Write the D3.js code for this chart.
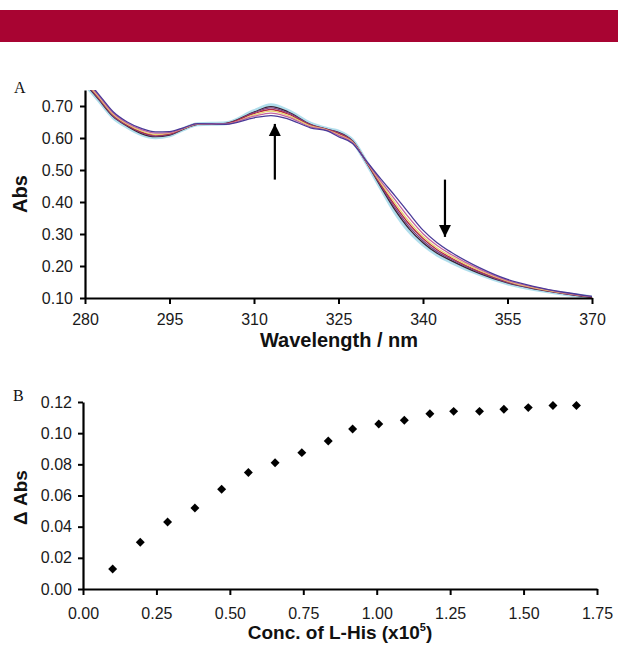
<!DOCTYPE html>
<html>
<head>
<meta charset="utf-8">
<script src="https://cdn.jsdelivr.net/npm/d3@7"></script>
<style>
  body { margin: 0; background: #fff; }
  svg { display: block; }
</style>
</head>
<body>
<svg id="fig" width="618" height="656"></svg>
<script>
let fontSans = "'Liberation Sans', Arial, Helvetica, sans-serif";
let fontSerif = "'Liberation Serif', 'Times New Roman', serif";

// ---- panel A: UV spectra during titration ----
const wavelengths = [280, 282.5, 285, 287.5, 290, 292.5, 295, 297.5, 300, 305, 310, 313, 316, 320, 323, 325, 327.5, 330, 332.5, 335, 337.5, 340, 342.5, 345, 350, 355, 360, 365, 370];
const abs0 = [0.788, 0.735, 0.682, 0.650, 0.630, 0.619, 0.620, 0.632, 0.645, 0.643, 0.663, 0.670, 0.660, 0.632, 0.622, 0.604, 0.583, 0.527, 0.472, 0.420, 0.365, 0.312, 0.273, 0.243, 0.195, 0.158, 0.135, 0.118, 0.105];
const abs1 = [0.783, 0.731, 0.678, 0.646, 0.626, 0.615, 0.617, 0.631, 0.645, 0.644, 0.668, 0.678, 0.666, 0.635, 0.624, 0.608, 0.585, 0.526, 0.465, 0.408, 0.351, 0.301, 0.264, 0.236, 0.190, 0.155, 0.133, 0.117, 0.104];
const abs2 = [0.779, 0.727, 0.674, 0.643, 0.622, 0.611, 0.615, 0.630, 0.644, 0.644, 0.672, 0.684, 0.671, 0.638, 0.625, 0.611, 0.587, 0.525, 0.460, 0.398, 0.340, 0.292, 0.256, 0.230, 0.186, 0.153, 0.131, 0.116, 0.104];
const abs3 = [0.777, 0.724, 0.672, 0.641, 0.619, 0.609, 0.613, 0.630, 0.644, 0.645, 0.676, 0.689, 0.675, 0.640, 0.626, 0.614, 0.588, 0.524, 0.456, 0.390, 0.332, 0.286, 0.251, 0.225, 0.183, 0.151, 0.130, 0.115, 0.103];
const abs4 = [0.774, 0.722, 0.669, 0.639, 0.617, 0.606, 0.611, 0.629, 0.643, 0.645, 0.679, 0.694, 0.679, 0.642, 0.627, 0.616, 0.590, 0.523, 0.452, 0.383, 0.324, 0.279, 0.245, 0.221, 0.180, 0.149, 0.129, 0.114, 0.103];
const abs5 = [0.771, 0.719, 0.667, 0.637, 0.614, 0.604, 0.609, 0.628, 0.643, 0.646, 0.681, 0.698, 0.682, 0.643, 0.627, 0.618, 0.591, 0.523, 0.448, 0.376, 0.317, 0.273, 0.240, 0.217, 0.177, 0.147, 0.128, 0.114, 0.102];
const abs6 = [0.769, 0.717, 0.665, 0.635, 0.612, 0.602, 0.608, 0.628, 0.643, 0.646, 0.684, 0.702, 0.685, 0.645, 0.628, 0.620, 0.592, 0.522, 0.445, 0.370, 0.310, 0.268, 0.236, 0.213, 0.175, 0.146, 0.127, 0.113, 0.102];
const specColors = ["#4a3a98", "#c4649e", "#e8d670", "#b3283e", "#7d4589", "#3a2230", "#8fd0e4"];
const absTicks = [0.10, 0.20, 0.30, 0.40, 0.50, 0.60, 0.70];
const wlTicks = [280, 295, 310, 325, 340, 355, 370];
// arrows: [wavelength, from abs, to abs]
const arrowsA = [[313.7, 0.47, 0.644], [343.9, 0.47, 0.291]];

// ---- panel B: binding curve ----
const concs = [0.101, 0.195, 0.288, 0.381, 0.472, 0.563, 0.654, 0.745, 0.835, 0.918, 1.007, 1.094, 1.181, 1.262, 1.350, 1.433, 1.516, 1.600, 1.680];
const dAbs = [0.0128, 0.030, 0.043, 0.052, 0.064, 0.0747, 0.081, 0.0875, 0.095, 0.1027, 0.1059, 0.1083, 0.1125, 0.114, 0.114, 0.1154, 0.1164, 0.1177, 0.1177];
const dAbsTicks = [0, 0.02, 0.04, 0.06, 0.08, 0.10, 0.12];
const concTicks = [0, 0.25, 0.5, 0.75, 1.0, 1.25, 1.5, 1.75];

let svg = d3.select("#fig");

// red banner at the top
svg.append("rect")
	.attr("x", 0).attr("y", 10)
	.attr("width", 618).attr("height", 32)
	.attr("fill", "#a80432");

function styleAxis(g) {
	g.select(".domain").attr("stroke", "#000").attr("stroke-width", 2.2);
	g.selectAll(".tick line").attr("stroke", "#000").attr("stroke-width", 2);
	g.selectAll(".tick text")
		.attr("fill", "#1a1a1a")
		.attr("font-family", fontSans)
		.attr("font-size", "16px");
}

// ===== Panel A =====
let xA = d3.scaleLinear().domain([280, 370]).range([85, 592]);
let yA = d3.scaleLinear().domain([0.1, 0.75]).range([298, 90]);

svg.append("defs").append("clipPath").attr("id", "clipA")
	.append("rect")
	.attr("x", xA(280)).attr("y", yA(0.75))
	.attr("width", xA(370) - xA(280))
	.attr("height", yA(0.1) - yA(0.75));

let spectra = [abs0, abs1, abs2, abs3, abs4, abs5, abs6];
let line = d3.line()
	.x((d, i) => xA(wavelengths[i]))
	.y(d => yA(d))
	.curve(d3.curveMonotoneX);

let gSpec = svg.append("g").attr("clip-path", "url(#clipA)");
// final (saturated) spectrum as a pale cyan halo drawn underneath
gSpec.append("path")
	.attr("d", line(abs6))
	.attr("fill", "none")
	.attr("stroke", specColors[6])
	.attr("stroke-width", 4)
	.attr("stroke-opacity", 0.7);
// later spectra first so the starting spectrum ends on top
gSpec.selectAll("path.spec")
	.data(spectra.slice(0, 6).map((d, i) => ({v: d, c: specColors[i]})).reverse()).enter()
	.append("path")
	.attr("class", "spec")
	.attr("d", d => line(d.v))
	.attr("fill", "none")
	.attr("stroke", d => d.c)
	.attr("stroke-width", 1.3);

svg.append("g")
	.attr("transform", "translate(0," + yA(0.1) + ")")
	.call(d3.axisBottom(xA).tickValues(wlTicks).tickFormat(d3.format("d")).tickSizeInner(6).tickSizeOuter(0).tickPadding(10))
	.call(styleAxis);

svg.append("g")
	.attr("transform", "translate(" + xA(280) + ",0)")
	.call(d3.axisLeft(yA).tickValues(absTicks).tickFormat(d3.format(".2f")).tickSizeInner(5).tickSizeOuter(0).tickPadding(7))
	.call(styleAxis);

// arrows
svg.append("defs").append("marker")
	.attr("id", "arrowhead")
	.attr("viewBox", "0 0 10 10")
	.attr("refX", 10).attr("refY", 5)
	.attr("markerUnits", "userSpaceOnUse")
	.attr("markerWidth", 12).attr("markerHeight", 13)
	.attr("orient", "auto")
	.append("path")
	.attr("d", "M0,0 L10,5 L0,10 Z")
	.attr("fill", "#000");

svg.selectAll("line.arrow")
	.data(arrowsA).enter()
	.append("line")
	.attr("class", "arrow")
	.attr("x1", d => xA(d[0])).attr("x2", d => xA(d[0]))
	.attr("y1", d => yA(d[1])).attr("y2", d => yA(d[2]))
	.attr("stroke", "#000")
	.attr("stroke-width", 2.2)
	.attr("marker-end", "url(#arrowhead)");

svg.append("text")
	.attr("x", 339).attr("y", 347)
	.attr("text-anchor", "middle")
	.attr("font-family", fontSans)
	.attr("font-weight", "bold")
	.attr("font-size", "20px")
	.attr("fill", "#111")
	.text("Wavelength / nm");

svg.append("text")
	.attr("transform", "translate(27," + ((yA(0.1) + yA(0.75)) / 2) + ") rotate(-90)")
	.attr("text-anchor", "middle")
	.attr("font-family", fontSans)
	.attr("font-weight", "bold")
	.attr("font-size", "20px")
	.attr("fill", "#111")
	.text("Abs");

svg.append("text")
	.attr("x", 14).attr("y", 93)
	.attr("font-family", fontSerif)
	.attr("font-size", "16px")
	.attr("fill", "#111")
	.text("A");

// ===== Panel B =====
let xB = d3.scaleLinear().domain([0, 1.75]).range([83, 597]);
let yB = d3.scaleLinear().domain([0, 0.12]).range([589, 402]);

svg.append("g")
	.attr("transform", "translate(0," + yB(0) + ")")
	.call(d3.axisBottom(xB).tickValues(concTicks).tickFormat(d3.format(".2f")).tickSizeInner(6).tickSizeOuter(0).tickPadding(13))
	.call(styleAxis);

svg.append("g")
	.attr("transform", "translate(" + xB(0) + ",0)")
	.call(d3.axisLeft(yB).tickValues(dAbsTicks).tickFormat(d3.format(".2f")).tickSizeInner(5).tickSizeOuter(0).tickPadding(6))
	.call(styleAxis);

let diamond = d3.symbol().type(d3.symbolSquare).size(40);
svg.append("g").selectAll("path")
	.data(concs).enter()
	.append("path")
	.attr("d", diamond)
	.attr("transform", (d, i) => "translate(" + xB(d) + "," + yB(dAbs[i]) + ") rotate(45)")
	.attr("fill", "#000");

let titleB = svg.append("text")
	.attr("x", 340).attr("y", 639)
	.attr("text-anchor", "middle")
	.attr("font-family", fontSans)
	.attr("font-weight", "bold")
	.attr("font-size", "19px")
	.attr("fill", "#111");
titleB.append("tspan").text("Conc. of L-His (x10");
titleB.append("tspan").attr("font-size", "11px").attr("dy", -8).text("5");
titleB.append("tspan").attr("dy", 8).text(")");

svg.append("text")
	.attr("transform", "translate(27," + ((yB(0) + yB(0.12)) / 2 + 2) + ") rotate(-90)")
	.attr("text-anchor", "middle")
	.attr("font-family", fontSans)
	.attr("font-weight", "bold")
	.attr("font-size", "19px")
	.attr("fill", "#111")
	.text("Δ Abs");

svg.append("text")
	.attr("x", 13).attr("y", 401)
	.attr("font-family", fontSerif)
	.attr("font-size", "16px")
	.attr("fill", "#111")
	.text("B");
</script>
</body>
</html>
